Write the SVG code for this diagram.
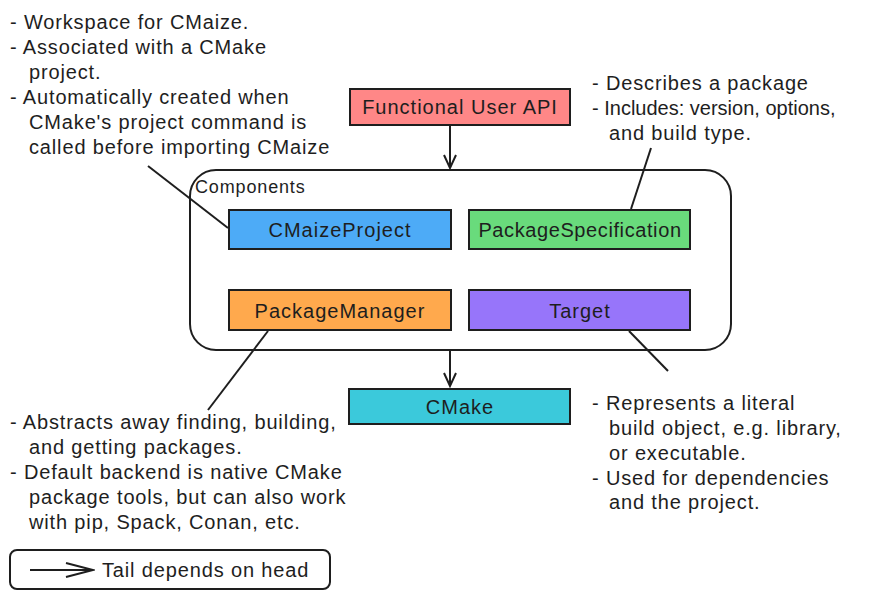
<svg xmlns="http://www.w3.org/2000/svg" width="876" height="600" viewBox="0 0 876 600">
<style>
text{font-family:"Liberation Sans",Arial,sans-serif;font-size:20px;fill:#1e1e1e;letter-spacing:0.85px}
.c{text-anchor:middle}
.lbl{letter-spacing:1px}
.box{stroke:#1e1e1e;stroke-width:2}
.ln{stroke:#1e1e1e;stroke-width:2;fill:none}
</style>
<defs>
<marker id="ah" markerWidth="16" markerHeight="16" refX="14" refY="8" orient="auto" markerUnits="userSpaceOnUse">
<path d="M1,2 L14,8 L1,14" fill="none" stroke="#1e1e1e" stroke-width="2"/>
</marker>
<marker id="ahl" markerWidth="30" markerHeight="20" refX="28" refY="10" orient="auto" markerUnits="userSpaceOnUse">
<path d="M1,3 L28,10 L1,17" fill="none" stroke="#1e1e1e" stroke-width="2"/>
</marker>
</defs>
<rect width="876" height="600" fill="#ffffff"/>
<g id="components">
<rect x="190" y="170" width="541" height="180" rx="26" class="box" fill="none"/>
<text x="195" y="193" style="font-size:18px">Components</text>
</g>
<g id="connectors">
<line x1="450" y1="126" x2="450" y2="168" class="ln" marker-end="url(#ah)"/>
<line x1="450" y1="351" x2="450" y2="386" class="ln" marker-end="url(#ah)"/>
<line x1="148" y1="166" x2="228" y2="228" class="ln"/>
<line x1="651" y1="148" x2="631" y2="209" class="ln"/>
<line x1="268" y1="331" x2="208" y2="410" class="ln"/>
<line x1="629" y1="331" x2="668" y2="371" class="ln"/>
</g>
<g id="api">
<rect x="350" y="89" width="220" height="36" class="box" fill="#ff8787"/>
<text x="460" y="114" class="c lbl">Functional User API</text>
</g>
<g id="cmaizeproject">
<rect x="229" y="210" width="222" height="39" class="box" fill="#4dabf7"/>
<text x="340" y="237" class="c lbl">CMaizeProject</text>
</g>
<g id="packagespecification">
<rect x="469" y="210" width="221" height="39" class="box" fill="#69db7c"/>
<text x="580" y="237" class="c" style="letter-spacing:0.6px">PackageSpecification</text>
</g>
<g id="packagemanager">
<rect x="229" y="290" width="222" height="40" class="box" fill="#ffa94d"/>
<text x="340" y="318" class="c lbl">PackageManager</text>
</g>
<g id="target">
<rect x="469" y="290" width="221" height="40" class="box" fill="#9775fa"/>
<text x="580" y="318" class="c lbl">Target</text>
</g>
<g id="cmake">
<rect x="349" y="389" width="221" height="35" class="box" fill="#3bc9db"/>
<text x="460" y="414" class="c lbl">CMake</text>
</g>
<g id="note-cmaizeproject">
<text x="10" y="29">- Workspace for CMaize.</text>
<text x="10" y="54">- Associated with a CMake</text>
<text x="29" y="79">project.</text>
<text x="10" y="104">- Automatically created when</text>
<text x="29" y="129">CMake's project command is</text>
<text x="29" y="154">called before importing CMaize</text>
</g>
<g id="note-packagespecification">
<text x="592" y="90">- Describes a package</text>
<text x="592" y="115" style="letter-spacing:0">- Includes: version, options,</text>
<text x="609" y="140">and build type.</text>
</g>
<g id="note-packagemanager">
<text x="10" y="429">- Abstracts away finding, building,</text>
<text x="29" y="454">and getting packages.</text>
<text x="10" y="479">- Default backend is native CMake</text>
<text x="29" y="504">package tools, but can also work</text>
<text x="29" y="529">with pip, Spack, Conan, etc.</text>
</g>
<g id="note-target">
<text x="592" y="410">- Represents a literal</text>
<text x="609" y="435">build object, e.g. library,</text>
<text x="609" y="460">or executable.</text>
<text x="592" y="485">- Used for dependencies</text>
<text x="609" y="509">and the project.</text>
</g>
<g id="legend">
<rect x="10" y="550" width="320" height="39" rx="7" class="box" fill="none"/>
<line x1="30" y1="570" x2="93" y2="570" class="ln" marker-end="url(#ahl)"/>
<text x="102" y="577">Tail depends on head</text>
</g>
</svg>
